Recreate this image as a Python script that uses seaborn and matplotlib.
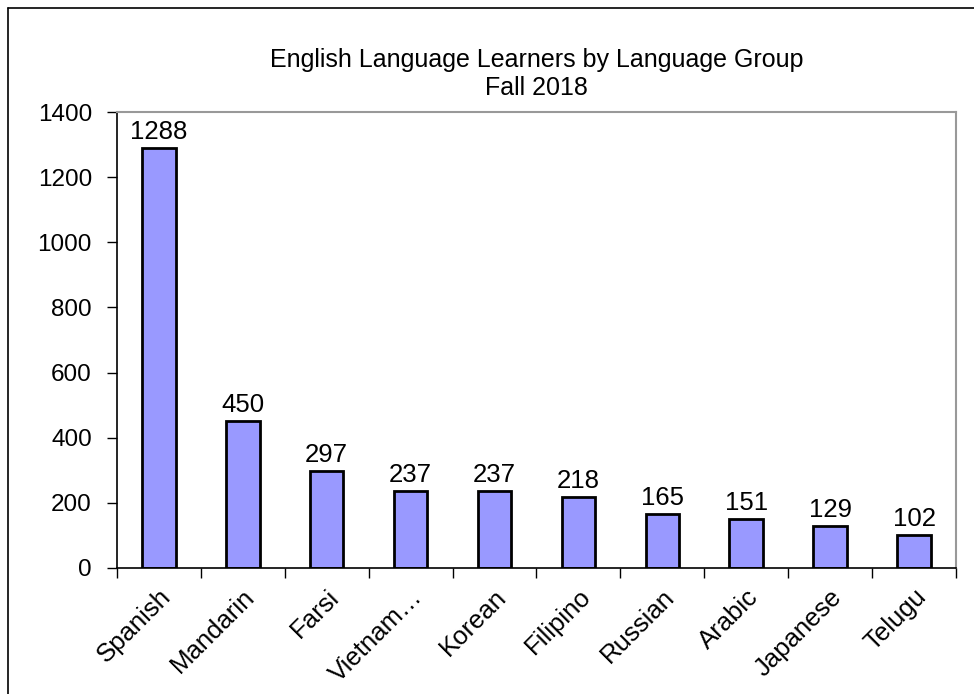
import pandas as pd
import seaborn as sns
import matplotlib.pyplot as plt
from matplotlib.lines import Line2D

# ELL counts by language, fall 2018
languages = ["Spanish", "Mandarin", "Farsi", "Vietnam…", "Korean",
             "Filipino", "Russian", "Arabic", "Japanese", "Telugu"]
counts = [1288, 450, 297, 237, 237, 218, 165, 151, 129, 102]
yticks = [0, 200, 400, 600, 800, 1000, 1200, 1400]

df = pd.DataFrame({"Language": languages, "Count": counts})

sns.set_style("white")
plt.rcParams['font.family'] = ['Liberation Sans', 'DejaVu Sans']
plt.rcParams['text.color'] = 'black'
plt.rcParams['xtick.color'] = 'black'
plt.rcParams['ytick.color'] = 'black'
plt.rcParams['axes.labelcolor'] = 'black'

fig = plt.figure(figsize=(9.74, 6.94), dpi=100)
ax = fig.add_axes([0.120, 0.1816, 0.8615, 0.657])

sns.barplot(x="Language", y="Count", data=df, color="#9999FF", width=0.4,
            saturation=1, edgecolor="black", linewidth=2, ax=ax)

for i, v in enumerate(counts):
    ax.annotate(str(v), (i, v), xytext=(0, 3), textcoords="offset points",
                ha="center", va="bottom", fontsize=18.5)

ax.set_xlim(-0.5, len(languages) - 0.5)
ax.set_ylim(0, 1400)
ax.set_yticks(yticks)
ax.set_xlabel("")
ax.set_ylabel("")
ax.tick_params(axis="y", labelsize=17.5, length=7, width=1, direction="out", left=True, pad=11)
ax.tick_params(axis="x", which="major", length=0, labelsize=18.5, pad=12)
ax.set_xticks([i - 0.5 for i in range(len(languages) + 1)], minor=True)
ax.tick_params(axis="x", which="minor", length=7, width=1, direction="out", bottom=True)
plt.setp(ax.get_xticklabels(), rotation=45, ha="right", rotation_mode="anchor")

for side in ["left", "bottom"]:
    ax.spines[side].set_color("black")
    ax.spines[side].set_linewidth(1.2)
for side in ["top", "right"]:
    ax.spines[side].set_color("#999999")
    ax.spines[side].set_linewidth(1.5)

ax.set_title("English Language Learners by Language Group\nFall 2018",
             fontsize=18, pad=12, linespacing=1.25)

# outer chart frame (left and top edges)
fig.add_artist(Line2D([8 / 974, 8 / 974], [0, 1 - 8 / 694], color="black", lw=1.2))
fig.add_artist(Line2D([8 / 974, 1], [1 - 8 / 694, 1 - 8 / 694], color="black", lw=1.2))

fig.savefig("out.png", dpi=100)
